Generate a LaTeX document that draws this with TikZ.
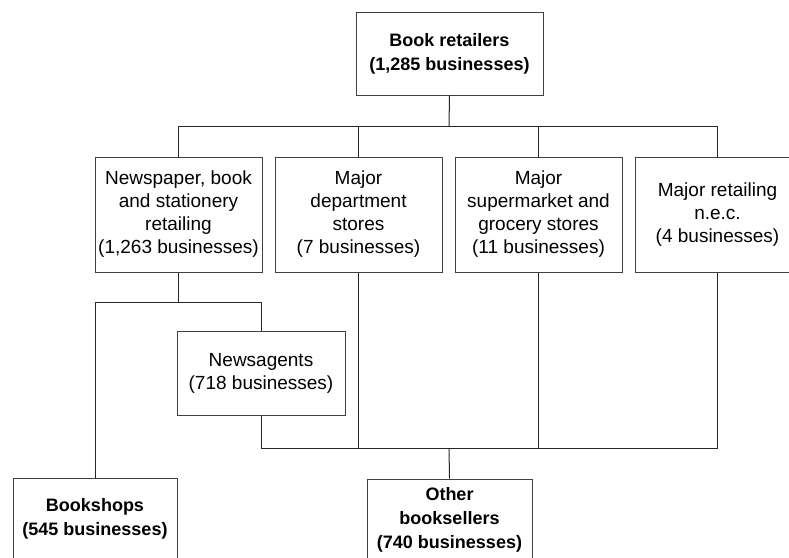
\documentclass[tikz,border=0pt]{standalone}
\usepackage{fontspec}
\setmainfont{Liberation Sans}
\begin{document}
\begin{tikzpicture}[x=1pt,y=-1pt,
  box/.style={draw=black!75,line width=1pt,rectangle,align=center,inner sep=0pt,
    font=\fontsize{19}{23}\selectfont},
  bbox/.style={box,font=\fontsize{18}{24}\selectfont\bfseries},
  conn/.style={draw=black!85,line width=1pt}]
\useasboundingbox (0,0) rectangle (789,557);
\clip (0,0) rectangle (789,557);
\node[bbox,minimum width=187,minimum height=83] (top) at (449.5,53.5) {Book retailers\\(1,285 businesses)};
\node[box,minimum width=167,minimum height=115] (n1) at (178.5,214.5) {Newspaper, book\\and stationery\\retailing\\(1,263 businesses)};
\node[box,minimum width=167,minimum height=115] (n2) at (358.5,214.5) {Major\\department\\stores\\(7 businesses)};
\node[box,minimum width=167,minimum height=115] (n3) at (538.5,214.5) {Major\\supermarket and\\grocery stores\\(11 businesses)};
\node[box,minimum width=165,minimum height=115] (n4) at (717.5,214.5) {Major retailing\\n.e.c.\\(4 businesses)};
\node[box,minimum width=168,minimum height=84] (nw) at (261,373) {Newsagents\\(718 businesses)};
\node[bbox,minimum width=164,minimum height=82] (bk) at (95,519) {Bookshops\\(545 businesses)};
\node[bbox,minimum width=165,minimum height=81] (ob) at (449.5,519.5) {Other\\booksellers\\(740 businesses)};
\coordinate (bar) at (449,126);
\coordinate (split) at (178,302);
\coordinate (merge) at (449,448);
\draw[conn] (top.south) -- (bar);
\draw[conn] (n1.north) -- (n1.north |- bar) -- (n4.north |- bar) -- (n4.north);
\draw[conn] (n2.north) -- (n2.north |- bar);
\draw[conn] (n3.north) -- (n3.north |- bar);
\draw[conn] (n1.south) -- (n1.south |- split);
\draw[conn] (bk.north) -- (bk.north |- split) -- (nw.north |- split) -- (nw.north);
\draw[conn] (nw.south) -- (nw.south |- merge) -- (n4.south |- merge) -- (n4.south);
\draw[conn] (n2.south) -- (n2.south |- merge);
\draw[conn] (n3.south) -- (n3.south |- merge);
\draw[conn] (merge) -- (ob.north);
\end{tikzpicture}
\end{document}
